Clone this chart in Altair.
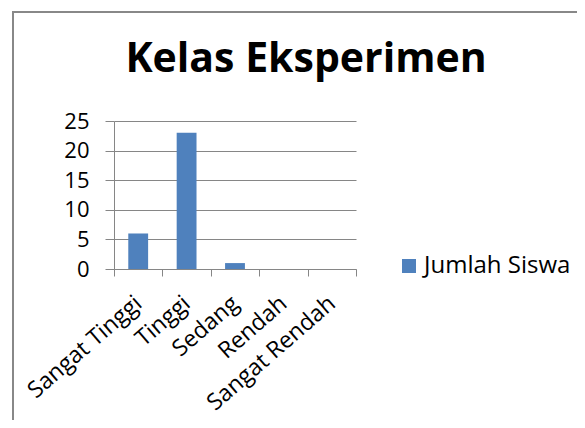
import altair as alt
import pandas as pd

categories = ["Sangat Tinggi", "Tinggi", "Sedang", "Rendah", "Sangat Rendah"]
values = [6, 23, 1, 0, 0]
series = "Jumlah Siswa"
y_ticks = [0, 5, 10, 15, 20, 25]
chart_title = "Kelas Eksperimen"

df = pd.DataFrame({"kategori": categories, "jumlah": values, "seri": [series] * len(categories)})
title_df = pd.DataFrame({"judul": [chart_title]})

W, H = 242, 148
FONT = "Open Sans"
GRID = "#868686"

bars = alt.Chart(df).mark_bar(color="#4F81BD", width=alt.RelativeBandSize(0.41)).encode(
    x=alt.X("kategori:N", sort=categories,
            scale=alt.Scale(paddingInner=0, paddingOuter=0),
            axis=alt.Axis(title=None, labelAngle=-41, labelAlign="right", labelBaseline="middle",
                          labelFont=FONT, labelFontSize=23, labelColor="#000000",
                          labelPadding=24, tickBand="extent", tickSize=7, tickColor=GRID,
                          domainColor=GRID, grid=False, labelOverlap=False)),
    y=alt.Y("jumlah:Q", scale=alt.Scale(domain=[0, 25], nice=False),
            axis=alt.Axis(title=None, values=y_ticks, labelFont=FONT, labelFontSize=22,
                          labelColor="#000000", labelPadding=16, tickSize=9, tickColor=GRID,
                          domainColor=GRID, gridColor=GRID, gridOpacity=1)),
    color=alt.Color("seri:N", scale=alt.Scale(range=["#4F81BD"]),
                    legend=alt.Legend(title=None, orient="none", legendX=283, legendY=133,
                                      symbolType="square", symbolSize=196, symbolStrokeWidth=0,
                                      labelFont=FONT, labelFontSize=24, labelColor="#000000",
                                      labelOffset=3, padding=0)),
)

frame = alt.Chart(df).mark_rect(fill=None, stroke="#888888", strokeWidth=2).encode(
    x=alt.value(-101), x2=alt.value(600), y=alt.value(-109), y2=alt.value(500)
)

title = alt.Chart(title_df).mark_text(
    font=FONT, fontSize=41, fontWeight="bold", color="#000000",
    align="center", baseline="alphabetic"
).encode(text="judul:N", x=alt.value(192), y=alt.value(-49))

chart = alt.layer(frame, title, bars).properties(
    width=W, height=H,
    autosize=alt.AutoSizeParams(type="none"),
    padding={"left": 106, "top": 113, "right": 221, "bottom": 151},
).configure_view(stroke=None)

chart.save("out.html", embed_options={"renderer": "svg", "actions": False})
